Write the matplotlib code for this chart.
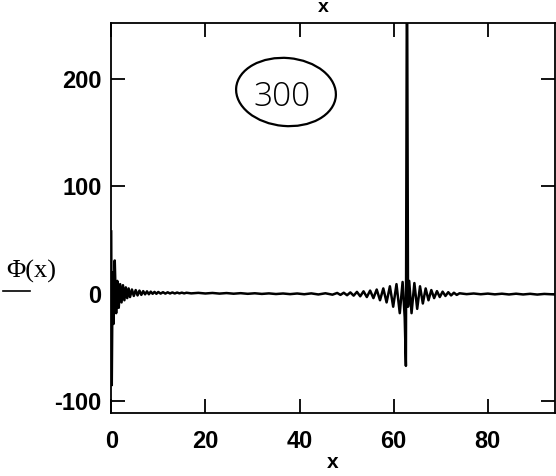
import matplotlib.pyplot as plt
from matplotlib.patches import Ellipse
from matplotlib.lines import Line2D

plt.rcParams['font.family'] = ['Liberation Sans', 'DejaVu Sans']
plt.rcParams['axes.unicode_minus'] = False

x_start = [0.0, 0.12, 0.3, 0.5, 0.75, 1.05, 1.3, 1.6, 1.9, 2.2, 2.5, 2.8, 3.1, 3.4,
           3.7, 4.0, 4.4, 4.8, 5.2, 5.6, 6.0, 6.4, 6.8, 7.2, 7.6, 8.0, 8.4, 8.8,
           9.2, 9.6, 10.0, 10.5, 11.0, 11.5, 12.0, 12.5, 13.0, 13.5, 14.0, 14.5,
           15.0, 15.5, 16.0]
phi_start = [58, -85, 20, -28, 31, -18, 12, -13, 9, -8, 8, -6, 6, -4, 5, -3, 4, -2,
             3.5, -1.5, 3, -1, 2.5, -0.5, 2.3, -0.4, 2, 0, 1.8, 0, 1.7, 0.2, 1.5,
             0.2, 1.4, 0.3, 1.3, 0.3, 1.2, 0.4, 1.1, 0.4, 1.0]

x_flat1 = [17.0, 18.5, 20.0, 21.5, 23.0, 24.5, 26.0, 27.5, 29.0, 30.5, 32.0, 33.5,
           35.0, 36.5, 38.0, 39.5, 41.0, 42.5, 44.0, 45.5, 47.0]
phi_flat1 = [0.4, 0.9, 0.3, 0.8, 0.2, 0.7, 0.1, 0.6, 0.0, 0.5, -0.1, 0.4, -0.2,
             0.3, -0.3, 0.3, -0.4, 0.4, -0.6, 0.5, -0.8]

x_peak = [48.0, 48.7, 49.4, 50.1, 50.8, 51.5, 52.2, 52.9, 53.6, 54.3, 55.0, 55.7,
          56.4, 57.1, 57.8, 58.5, 59.2, 59.9, 60.6, 61.3, 61.9, 62.35, 62.6,
          62.83, 63.05, 63.3, 63.8, 64.4, 65.0, 65.6, 66.2, 66.8, 67.4, 68.0,
          68.6, 69.2, 69.8, 70.4, 71.0, 71.6, 72.2, 72.8, 73.4, 74.0]
phi_peak = [0.8, -1.0, 1.0, -1.3, 1.3, -1.7, 1.8, -2.3, 2.3, -3, 3, -4, 4, -6, 5,
            -8, 7, -12, 9, -18, 11, -22, -67, 330, -12, 12, -18, 10, -14, 7, -9,
            5, -6, 3.5, -4, 2.5, -3, 2, -2, 1.5, -1.5, 1, -1, 0.5]

x_flat2 = [75.5, 77.0, 78.5, 80.0, 81.5, 83.0, 84.5, 86.0, 87.5, 89.0, 90.5, 92.0,
           94.25]
phi_flat2 = [-0.3, 0.3, -0.4, 0.2, -0.5, 0.1, -0.6, 0.1, -0.6, 0.0, -0.7, -0.1,
             -0.6]

x_vals = x_start + x_flat1 + x_peak + x_flat2
phi_vals = phi_start + phi_flat1 + phi_peak + phi_flat2

x_ticks = [0, 20, 40, 60, 80]
y_ticks = [-100, 0, 100, 200]

fig = plt.figure(figsize=(5.56, 4.76), dpi=100)
ax = fig.add_axes([0.2, 0.132, 0.798, 0.82])
ax.plot(x_vals, phi_vals, color='black', lw=1.8)

ax.set_xlim(0, 94.25)
ax.set_ylim(-111, 252)
ax.set_xticks(x_ticks)
ax.set_yticks(y_ticks)
ax.tick_params(direction='in', length=10, width=1.3, top=True, right=True,
               labelsize=17)
ax.tick_params(axis='x', pad=12)
ax.tick_params(axis='y', pad=7)
for lbl in ax.get_xticklabels() + ax.get_yticklabels():
    lbl.set_fontweight('bold')
for sp in ax.spines.values():
    sp.set_linewidth(1.3)

# axis labels (bottom and the one at the top edge)
fig.text(333 / 556, 1 - 463 / 476, 'x', ha='center', va='center',
         fontsize=15, fontweight='bold')
fig.text(323 / 556, 1 - 8 / 476, 'x', ha='center', va='center',
         fontsize=14, fontweight='bold')
fig.text(31 / 556, 1 - 271 / 476, 'Φ(x)', ha='center', va='center',
         fontsize=19, family=['Liberation Serif', 'DejaVu Serif'])
fig.add_artist(Line2D([3 / 556, 30 / 556], [1 - 291 / 476, 1 - 291 / 476],
                      transform=fig.transFigure, color='black', lw=1.2))

# handwritten note
fig.text(282 / 556, 1 - 97 / 476, '300', ha='center', va='center',
         fontsize=24, fontweight='light', family=['Open Sans', 'DejaVu Sans'])
fig.add_artist(Ellipse((286, 476 - 92), 100, 68, angle=-5,
                       transform=None, fill=False, ec='black', lw=1.6))

fig.savefig('out.png', dpi=100)
